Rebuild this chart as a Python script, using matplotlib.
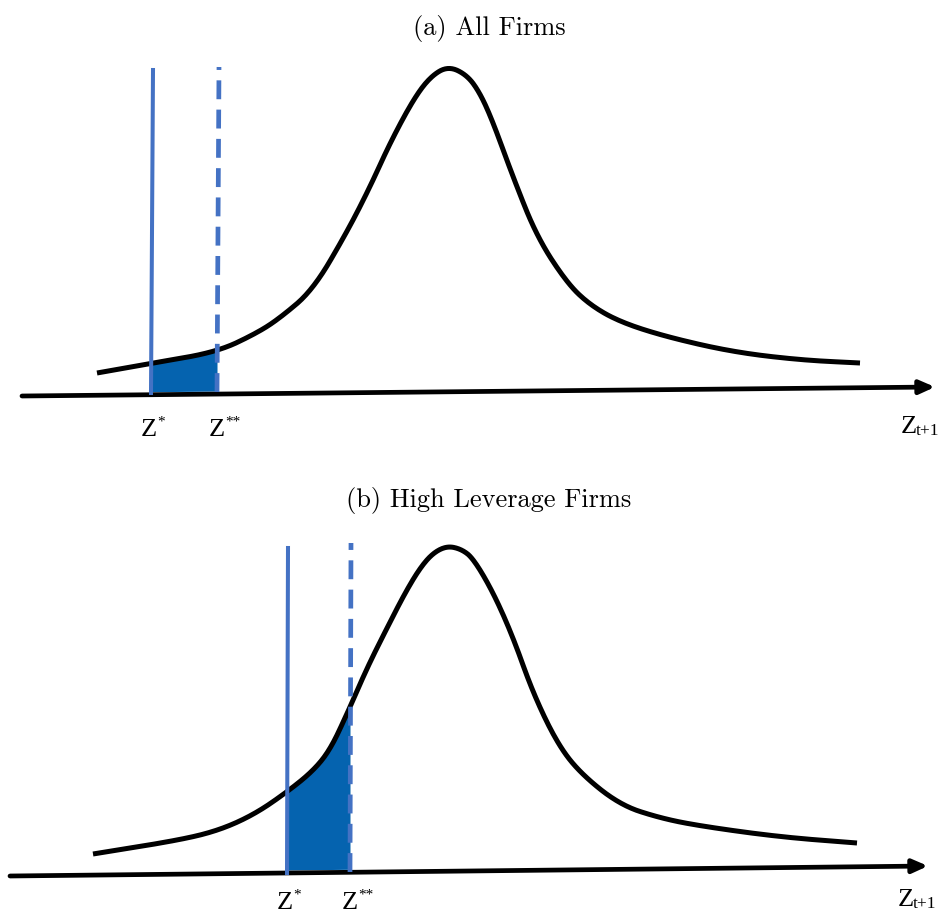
import numpy as np
import matplotlib
matplotlib.use("Agg")
import matplotlib.pyplot as plt

# density sketch for each panel, in canvas units (x right, y down)
curve_a_x = [97, 153, 217, 257, 280, 313, 347, 370, 390, 413, 430, 448, 467, 480, 493, 513, 537, 567, 590, 620, 667, 733, 800, 860]
curve_a_y = [373, 363, 352, 333, 318, 290, 232, 187, 143, 100, 77, 66, 75, 93, 122, 177, 237, 283, 305, 322, 337, 352, 360, 363]
curve_b_x = [93, 180, 220, 255, 287, 313, 330, 347, 367, 387, 405, 420, 433, 447, 461, 473, 493, 513, 533, 557, 580, 620, 660, 700, 780, 857]
curve_b_y = [854, 840, 830, 814, 792, 771, 750, 714, 668, 628, 593, 568, 553, 546, 549, 558, 592, 637, 693, 743, 773, 805, 818, 826, 837, 843]

# horizontal axis (start, arrow tip)
axis_a = [(22, 396), (935, 387)]
axis_b = [(10, 876), (928, 866)]

# thresholds: solid line Z*, dashed line Z**
zstar_a = [(151, 393), (153, 70)]
zstar2_a = [(217, 392), (219, 67)]
zstar_b = [(287, 873), (288, 548)]
zstar2_b = [(350, 872), (351, 543)]

titles = ["(a) All Firms", "(b) High Leverage Firms"]

line_blue = "#4472C4"
fill_blue = "#0563AF"
serif = "Liberation Serif"


def chaikin(xs, ys, rounds=4):
    # corner cutting, keeps the end points fixed
    p = np.column_stack([xs, ys]).astype(float)
    for _ in range(rounds):
        q = 0.75 * p[:-1] + 0.25 * p[1:]
        r = 0.25 * p[:-1] + 0.75 * p[1:]
        mid = np.empty((2 * len(q), 2))
        mid[0::2] = q
        mid[1::2] = r
        p = np.vstack([p[0], mid, p[-1]])
    return p[:, 0], p[:, 1]


def z_label(ax, x, y, sup="", sub=""):
    ax.text(x, y, "Z", family=serif, fontsize=19, ha="left", va="baseline")
    if sup:
        ax.text(x + 16, y - 10, sup, family=serif, fontsize=11, ha="left", va="baseline")
    if sub:
        ax.text(x + 15, y + 2, sub, family=serif, fontsize=12.5, ha="left", va="baseline")


def draw_panel(ax, cx, cy, axis, zs, zss, title, title_y, base_y, right_x):
    sx, sy = chaikin(cx, cy)

    # shaded tail between Z* and Z**
    xs = np.linspace(zs[0][0] + 1, zss[0][0], 200)
    top = np.interp(xs, sx, sy)
    base = np.interp(xs, [axis[0][0], axis[1][0]], [axis[0][1], axis[1][1]]) - 3
    ax.fill_between(xs, top, base, color=fill_blue, lw=0, zorder=2)

    ax.plot(sx, sy, color="black", lw=3.6, solid_capstyle="butt", zorder=3)

    ax.annotate("", xy=axis[1], xytext=axis[0],
                arrowprops=dict(arrowstyle="-|>,head_length=0.9,head_width=0.4",
                                color="black", lw=3.4, shrinkA=0, shrinkB=0),
                zorder=4)

    ax.plot([zs[0][0], zs[1][0]], [zs[0][1], zs[1][1]], color=line_blue, lw=2.9, zorder=4)
    ax.plot([zss[0][0], zss[1][0]], [zss[0][1], zss[1][1]], color=line_blue, lw=3.4,
            dashes=(4, 2.2), zorder=4)

    ax.text(489, title_y, title, family="cmr10", fontsize=19, ha="center", va="center")
    z_label(ax, zs[0][0] - 10, base_y, sup="*")
    z_label(ax, zss[0][0] - 8, base_y, sup="**")
    z_label(ax, right_x, base_y - 3, sub="t+1")


fig = plt.figure(figsize=(9.39, 9.13), dpi=100)
ax = fig.add_axes([0, 0, 1, 1])
ax.set_xlim(0, 939)
ax.set_ylim(913, 0)
ax.axis("off")

draw_panel(ax, curve_a_x, curve_a_y, axis_a, zstar_a, zstar2_a, titles[0], 28, 436, 901)
draw_panel(ax, curve_b_x, curve_b_y, axis_b, zstar_b, zstar2_b, titles[1], 500, 909, 898)

fig.savefig("out.png", dpi=100)
